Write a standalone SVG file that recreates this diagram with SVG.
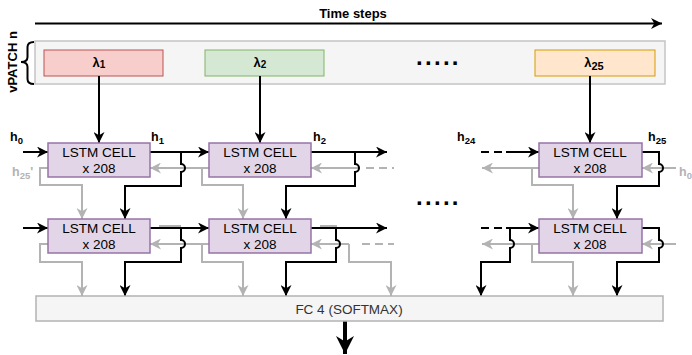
<svg xmlns="http://www.w3.org/2000/svg" width="692" height="355" viewBox="0 0 692 355">
<defs>
<style>
text{font-family:"Liberation Sans",Arial,sans-serif;fill:#000}
.b{font-weight:bold}
.cell rect{fill:#e1d5e7;stroke:#9673a6;stroke-width:1.5}
.cell text{font-size:13.5px;text-anchor:middle}
.blk{fill:none;stroke:#000;stroke-width:2}
.gry{fill:none;stroke:#b3b3b3;stroke-width:2}
.dsh{stroke-dasharray:8 5}
.lam{font-size:13px;font-weight:bold;text-anchor:middle}
.hl{font-size:12.5px;font-weight:bold}
</style>
<marker id="ab" viewBox="0 0 10 10" refX="10" refY="5" markerWidth="11" markerHeight="11" markerUnits="userSpaceOnUse" orient="auto"><path d="M0,0 L10,5 L0,10 L3,5 Z" fill="#000"/></marker>
<marker id="ag" viewBox="0 0 10 10" refX="10" refY="5" markerWidth="11" markerHeight="11" markerUnits="userSpaceOnUse" orient="auto"><path d="M0,0 L10,5 L0,10 L3,5 Z" fill="#b3b3b3"/></marker>
<marker id="abig" viewBox="0 0 10 10" refX="10" refY="5" markerWidth="18" markerHeight="18" markerUnits="userSpaceOnUse" orient="auto"><path d="M0,0 L10,5 L0,10 L3,5 Z" fill="#000"/></marker>
</defs>
<rect width="692" height="355" fill="#fff"/>

<g id="timesteps">
<text x="353" y="18" class="b" font-size="13" text-anchor="middle">Time steps</text>
<path d="M35,23.5 H662" class="blk" marker-end="url(#ab)"/>
</g>

<g id="vpatch">
<text transform="translate(17,62) rotate(-90)" class="b" font-size="13" text-anchor="middle">vPATCH n</text>
<path d="M34,42 Q27.5,42 27.5,47 V57 Q27.5,62 21,62 Q27.5,62 27.5,67 V79 Q27.5,84 34,84" fill="none" stroke="#000" stroke-width="2"/>
<rect x="35" y="41" width="630" height="43" fill="#f5f5f5" stroke="#c4c4c4" stroke-width="1.5"/>
</g>

<g id="lambda1"><rect x="44" y="50" width="119" height="26" fill="#f8cecc" stroke="#b85450" stroke-width="1"/><text x="99" y="67" class="lam">λ<tspan font-size="10" dy="1">1</tspan></text></g>
<g id="lambda2"><rect x="205" y="50" width="119" height="26" fill="#d5e8d4" stroke="#82b366" stroke-width="1"/><text x="260" y="67" class="lam">λ<tspan font-size="10" dy="1">2</tspan></text></g>
<g id="lambda25"><rect x="535" y="50" width="120" height="26" fill="#ffe6cc" stroke="#d79b00" stroke-width="1"/><text x="594" y="67" class="lam">λ<tspan font-size="11" dy="3">25</tspan></text></g>
<g id="dots1"><text x="416" y="65" class="b" font-size="24" letter-spacing="2.3">.....</text></g>
<g id="dots2"><text x="416" y="205" class="b" font-size="24" letter-spacing="2.3">.....</text></g>

<g id="connectors">
<path d="M159,226 H181" class="gry"/>
<path d="M320,226 H337" class="gry"/>
<path d="M48,168 H40 V185 H82 V219" class="gry" marker-end="url(#ag)"/>
<path d="M209,168 H150" class="gry" marker-end="url(#ag)"/>
<path d="M202,168 V185 H243 V219" class="gry" marker-end="url(#ag)"/>
<path d="M360,168 H311" class="gry" marker-end="url(#ag)"/>
<path d="M366,168 H394" class="gry dsh"/>
<path d="M676,168 H642" class="gry" marker-end="url(#ag)"/>
<path d="M539,168 H482" class="gry" marker-end="url(#ag)"/>
<path d="M532,168 V185 H573 V219" class="gry" marker-end="url(#ag)"/>
<path d="M48,244 H40 V262 H82 V296" class="gry" marker-end="url(#ag)"/>
<path d="M209,244 H150" class="gry" marker-end="url(#ag)"/>
<path d="M202,244 V262 H243 V296" class="gry" marker-end="url(#ag)"/>
<path d="M349,244 H311" class="gry" marker-end="url(#ag)"/>
<path d="M349,244 V262 H391 V296" class="gry" marker-end="url(#ag)"/>
<path d="M362,244 H394" class="gry dsh"/>
<path d="M676,244 H642" class="gry" marker-end="url(#ag)"/>
<path d="M539,244 H482" class="gry" marker-end="url(#ag)"/>
<path d="M532,244 V262 H573 V296" class="gry" marker-end="url(#ag)"/>
<path d="M99,76 V143" class="blk" marker-end="url(#ab)"/>
<path d="M260,76 V143" class="blk" marker-end="url(#ab)"/>
<path d="M590,76 V143" class="blk" marker-end="url(#ab)"/>
<path d="M23,152 H48" class="blk" marker-end="url(#ab)"/>
<path d="M150,152 H209" class="blk" marker-end="url(#ab)"/>
<path d="M181,152 V164 a4,4 0 0 1 0,8 V186 H125 V219" class="blk" marker-end="url(#ab)"/>
<path d="M311,152 H387" class="blk" marker-end="url(#ab)"/>
<path d="M355,152 V164 a4,4 0 0 1 0,8 V186 H286 V219" class="blk" marker-end="url(#ab)"/>
<path d="M481,152 H507" class="blk dsh"/>
<path d="M506,152 H539" class="blk" marker-end="url(#ab)"/>
<path d="M642,152 H659 V164 a4,4 0 0 1 0,8 V186 H617 V219" class="blk" marker-end="url(#ab)"/>
<path d="M23,228 H48" class="blk" marker-end="url(#ab)"/>
<path d="M150,228 H209" class="blk" marker-end="url(#ab)"/>
<path d="M181,228 V240 a4,4 0 0 1 0,8 V262 H125 V296" class="blk" marker-end="url(#ab)"/>
<path d="M311,228 H387" class="blk" marker-end="url(#ab)"/>
<path d="M336,228 V240 a4,4 0 0 1 0,8 V262 H286 V296" class="blk" marker-end="url(#ab)"/>
<path d="M481,228 H507" class="blk dsh"/>
<path d="M506,228 H539" class="blk" marker-end="url(#ab)"/>
<path d="M510,228 V240 a4,4 0 0 1 0,8 V262 H481 V296" class="blk" marker-end="url(#ab)"/>
<path d="M642,228 H659 V240 a4,4 0 0 1 0,8 V262 H617 V296" class="blk" marker-end="url(#ab)"/>
<path d="M345,321 V354" fill="none" stroke="#000" stroke-width="4" marker-end="url(#abig)"/>
</g>

<g id="labels">
<text x="10" y="141" class="hl">h<tspan font-size="9.5" dy="3">0</tspan></text>
<text x="151" y="141" class="hl">h<tspan font-size="9.5" dy="3">1</tspan></text>
<text x="313" y="141" class="hl">h<tspan font-size="9.5" dy="3">2</tspan></text>
<text x="457" y="141" class="hl">h<tspan font-size="9.5" dy="3">24</tspan></text>
<text x="648" y="141" class="hl">h<tspan font-size="9.5" dy="3">25</tspan></text>
<text x="12" y="176" class="hl" style="fill:#b3b3b3">h<tspan font-size="9.5" dy="3" style="fill:#b3b3b3">25</tspan><tspan dy="-3" style="fill:#b3b3b3">'</tspan></text>
<text x="679" y="176" class="hl" style="fill:#b3b3b3">h<tspan font-size="9.5" dy="3" style="fill:#b3b3b3">0</tspan></text>
</g>

<g id="cell1r1" class="cell"><rect x="48" y="143" width="102" height="34"/><text x="99" y="157">LSTM CELL</text><text x="99" y="173">x 208</text></g>
<g id="cell2r1" class="cell"><rect x="209" y="143" width="102" height="34"/><text x="260" y="157">LSTM CELL</text><text x="260" y="173">x 208</text></g>
<g id="cell25r1" class="cell"><rect x="539" y="143" width="103" height="34"/><text x="590" y="157">LSTM CELL</text><text x="590" y="173">x 208</text></g>
<g id="cell1r2" class="cell"><rect x="48" y="219" width="102" height="34"/><text x="99" y="233">LSTM CELL</text><text x="99" y="249">x 208</text></g>
<g id="cell2r2" class="cell"><rect x="209" y="219" width="102" height="34"/><text x="260" y="233">LSTM CELL</text><text x="260" y="249">x 208</text></g>
<g id="cell25r2" class="cell"><rect x="539" y="219" width="103" height="34"/><text x="590" y="233">LSTM CELL</text><text x="590" y="249">x 208</text></g>

<g id="fc"><rect x="36" y="296" width="627" height="25" fill="#f5f5f5" stroke="#b3b3b3" stroke-width="1.5"/><text x="349" y="313.5" font-size="13.5" text-anchor="middle" style="fill:#333">FC 4 (SOFTMAX)</text></g>
</svg>
